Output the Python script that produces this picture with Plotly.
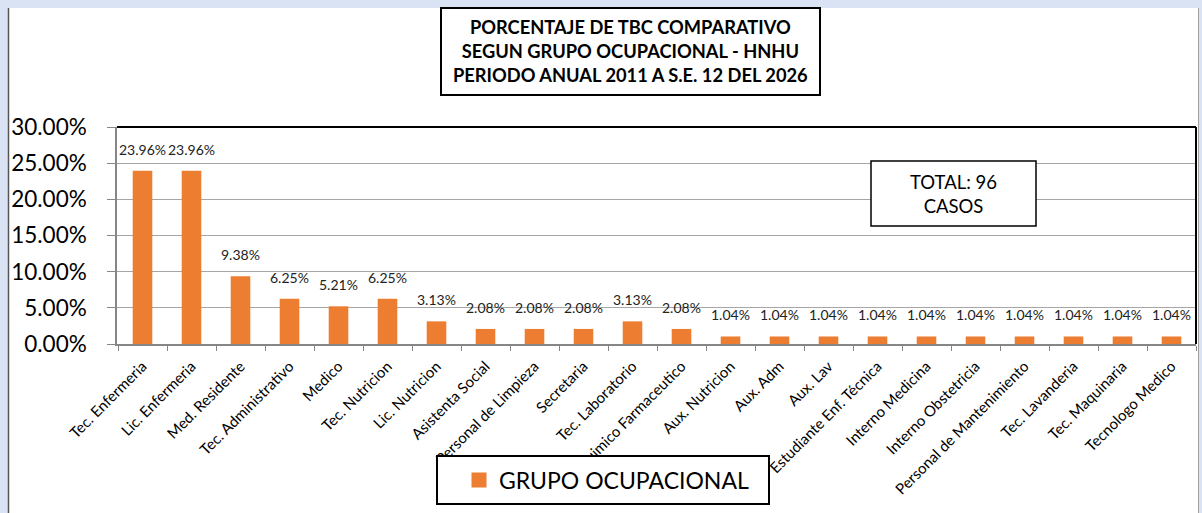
import plotly.graph_objects as go

categories = ["Tec. Enfermeria", "Lic. Enfermeria", "Med. Residente", "Tec. Administrativo",
              "Medico", "Tec. Nutricion", "Lic. Nutricion", "Asistenta Social",
              "Personal de Limpieza", "Secretaria", "Tec. Laboratorio", "Quimico Farmaceutico",
              "Aux. Nutricion", "Aux. Adm", "Aux. Lav", "Estudiante Enf. Técnica",
              "Interno Medicina", "Interno Obstetricia", "Personal de Mantenimiento",
              "Tec. Lavanderia", "Tec. Maquinaria", "Tecnologo Medico"]
percentages = [0.2396, 0.2396, 0.0938, 0.0625, 0.0521, 0.0625, 0.0313, 0.0208,
               0.0208, 0.0208, 0.0313, 0.0208, 0.0104, 0.0104, 0.0104, 0.0104,
               0.0104, 0.0104, 0.0104, 0.0104, 0.0104, 0.0104]
series_name = "GRUPO OCUPACIONAL"
title_lines = ["PORCENTAJE DE TBC COMPARATIVO", "SEGUN GRUPO OCUPACIONAL - HNHU",
               "PERIODO ANUAL 2011 A S.E. 12 DEL 2026"]
total_text = "TOTAL: 96<br>CASOS"

FONT = "Lato, Carlito, Calibri, sans-serif"
W, H = 1202, 513
L, R, T, B = 117, 1196, 127, 344
ORANGE = "#ED7D31"
BG = "#DAE3F3"

def px(x):
    return (x - L) / (R - L)

def py(y):
    return (B - y) / (B - T)

fig = go.Figure()
fig.add_trace(go.Bar(
    x=categories, y=percentages, name=series_name,
    marker=dict(color=ORANGE, line=dict(width=0)),
    showlegend=False,
))
# legend entry (square swatch)
fig.add_trace(go.Scatter(
    x=[None], y=[None], mode="markers", name=series_name,
    marker=dict(symbol="square", size=15, color=ORANGE), showlegend=True,
))

annotations = []
for c, v in zip(categories, percentages):
    annotations.append(dict(x=c, y=v, xref="x", yref="y", text=f"{v*100:.2f}%",
                            showarrow=False, yanchor="bottom", yshift=11,
                            font=dict(family=FONT, size=14, color="#222")))

annotations.append(dict(x=px(630.5), y=py(51), xref="paper", yref="paper",
                        text="<b>" + "<br>".join(title_lines) + "</b>",
                        showarrow=False, xanchor="center", yanchor="middle",
                        font=dict(family=FONT, size=18.3, color="black")))
annotations.append(dict(x=px(953.5), y=py(194), xref="paper", yref="paper",
                        text=total_text, showarrow=False, xanchor="center", yanchor="middle",
                        font=dict(family=FONT, size=18.5, color="black")))

shapes = [
    # white chart area
    dict(type="rect", xref="paper", yref="paper", x0=px(8), x1=px(1198), y0=py(8), y1=py(520),
         fillcolor="white", line=dict(width=0), layer="below"),
    dict(type="line", xref="paper", yref="paper", x0=px(8.5), x1=px(8.5), y0=py(8), y1=py(520),
         line=dict(color="#555555", width=1.5)),
    dict(type="line", xref="paper", yref="paper", x0=px(1198.5), x1=px(1198.5), y0=py(8), y1=py(520),
         line=dict(color="#A0A0A0", width=1)),
    # title box
    dict(type="rect", xref="paper", yref="paper", x0=px(441), x1=px(820), y0=py(8), y1=py(95),
         fillcolor="white", line=dict(color="black", width=2), layer="below"),
    # total box
    dict(type="rect", xref="paper", yref="paper", x0=px(871), x1=px(1036), y0=py(161), y1=py(226),
         fillcolor="white", line=dict(color="black", width=1.5), layer="above"),
    # legend box
    dict(type="rect", xref="paper", yref="paper", x0=px(437), x1=px(769), y0=py(456), y1=py(504),
         fillcolor="white", line=dict(color="black", width=2), layer="above"),
    # plot top and right border
    dict(type="line", xref="paper", yref="paper", x0=0, x1=1, y0=1, y1=1,
         line=dict(color="black", width=2)),
    dict(type="line", xref="paper", yref="paper", x0=1, x1=1, y0=0, y1=1,
         line=dict(color="black", width=2)),
]

fig.update_layout(
    width=W, height=H,
    margin=dict(l=L, r=W - R, t=T, b=H - B, autoexpand=False),
    paper_bgcolor=BG, plot_bgcolor="white",
    bargap=0.6,
    font=dict(family=FONT, color="black"),
    annotations=annotations, shapes=shapes,
    legend=dict(x=px(459), y=py(480), xanchor="left", yanchor="middle",
                bgcolor="rgba(0,0,0,0)", borderwidth=0,
                font=dict(family=FONT, size=23, color="black"),
                orientation="h", itemsizing="trace"),
)
fig.update_yaxes(range=[0, 0.30], dtick=0.05, tickformat=".2%",
                 showgrid=True, gridcolor="#A6A6A6", gridwidth=1,
                 showline=True, linecolor="#868686", linewidth=1.5,
                 ticks="outside", ticklen=8, tickcolor="#868686", automargin=False,
                 ticklabelstandoff=16,
                 tickfont=dict(family=FONT, size=22.5, color="black"), zeroline=False)
fig.update_xaxes(tickangle=-45, tickson="boundaries", ticks="outside", ticklen=5,
                 tickcolor="#868686", showline=True, linecolor="#868686", linewidth=1.5,
                 automargin=False, ticklabelstandoff=6,
                 tickfont=dict(family=FONT, size=15, color="black"))

fig.write_html("out.html", config={"displayModeBar": False},
               post_script=f"document.body.style.margin='0';document.body.style.background='{BG}';")
